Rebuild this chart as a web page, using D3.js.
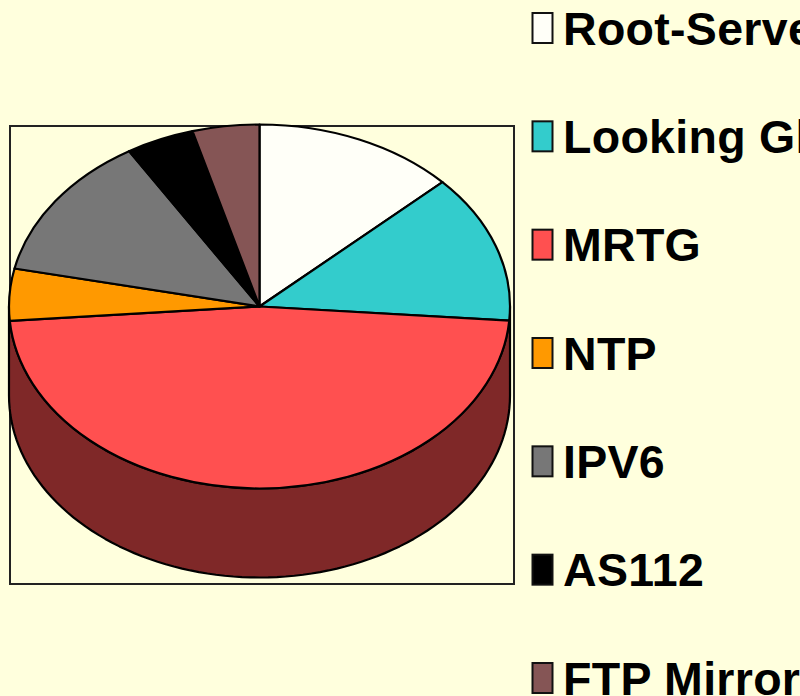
<!DOCTYPE html>
<html>
<head>
<meta charset="utf-8">
<script src="https://cdnjs.cloudflare.com/ajax/libs/d3/7.8.5/d3.min.js"></script>
<style>
  html, body { margin: 0; padding: 0; background: #ffffdd; overflow: hidden; }
  svg { display: block; }
  .slice { stroke: #000; stroke-width: 2.2px; vector-effect: non-scaling-stroke; stroke-linejoin: round; }
  .legendText { font-family: "Liberation Sans", Arial, sans-serif; font-weight: bold; font-size: 46.5px; letter-spacing: 0.3px; fill: #000; }
</style>
</head>
<body>
<div id="main"></div>
<script>
const labels = ["Root-Servers", "Looking Glass", "MRTG", "NTP", "IPV6", "AS112", "FTP Mirrors"];
const shares = [13, 13.17, 47.4, 4.6, 12.9, 4.4, 4.3];
const colors = ["#fffff8", "#33cccc", "#ff5050", "#ff9900", "#777777", "#000000", "#855555"];
const wallColor = "#7f2828";

const ctx = {
    SVG_W: 800,
    SVG_H: 696,
    CX: 259.5,
    CY: 306.5,
    RX: 250.5,
    RY: 182,
    DEPTH: 89,
};

function drawFrame(svgEl) {
    svgEl.append("rect")
        .attr("x", 10)
        .attr("y", 126)
        .attr("width", 504)
        .attr("height", 458)
        .attr("fill", "none")
        .attr("stroke", "#222")
        .attr("stroke-width", 2);
}

function drawPie(svgEl) {
    let pieGen = d3.pie().sort(null).value(d => d);
    let arcs = pieGen(shares);
    let arcGen = d3.arc().innerRadius(0).outerRadius(ctx.RX);

    // side wall, only the front half of the ellipse shows
    let wallAngles = d3.range(Math.PI / 2, Math.PI * 1.5 + 0.001, Math.PI / 90);
    let wallGen = d3.area()
        .x(a => ctx.CX + ctx.RX * Math.sin(a))
        .y0(a => ctx.CY - ctx.RY * Math.cos(a))
        .y1(a => ctx.CY - ctx.RY * Math.cos(a) + ctx.DEPTH);
    svgEl.append("path")
        .attr("d", wallGen(wallAngles))
        .attr("class", "slice")
        .style("fill", wallColor);

    let pieG = svgEl.append("g")
        .attr("transform", `translate(${ctx.CX},${ctx.CY}) scale(1,${ctx.RY / ctx.RX})`);
    pieG.selectAll(".slice")
        .data(arcs)
        .enter().append("path")
        .attr("class", "slice")
        .attr("d", arcGen)
        .style("fill", (d, i) => colors[i]);
}

function drawLegend(svgEl) {
    let yScale = d3.scalePoint().domain(labels).range([28, 678]);
    let rows = svgEl.selectAll(".legendRow")
        .data(labels)
        .enter().append("g")
        .attr("class", "legendRow")
        .attr("transform", d => `translate(0,${yScale(d)})`);
    rows.append("rect")
        .attr("x", 532.5)
        .attr("y", -15)
        .attr("width", 20)
        .attr("height", 30)
        .attr("fill", (d, i) => colors[i])
        .attr("stroke", "#111")
        .attr("stroke-width", 2);
    rows.append("text")
        .attr("class", "legendText")
        .attr("x", 563)
        .attr("y", 16.5)
        .text(d => d);
}

function createViz() {
    let svgEl = d3.select("#main").append("svg")
        .attr("width", ctx.SVG_W)
        .attr("height", ctx.SVG_H);
    drawFrame(svgEl);
    drawPie(svgEl);
    drawLegend(svgEl);
}

createViz();
</script>
</body>
</html>
